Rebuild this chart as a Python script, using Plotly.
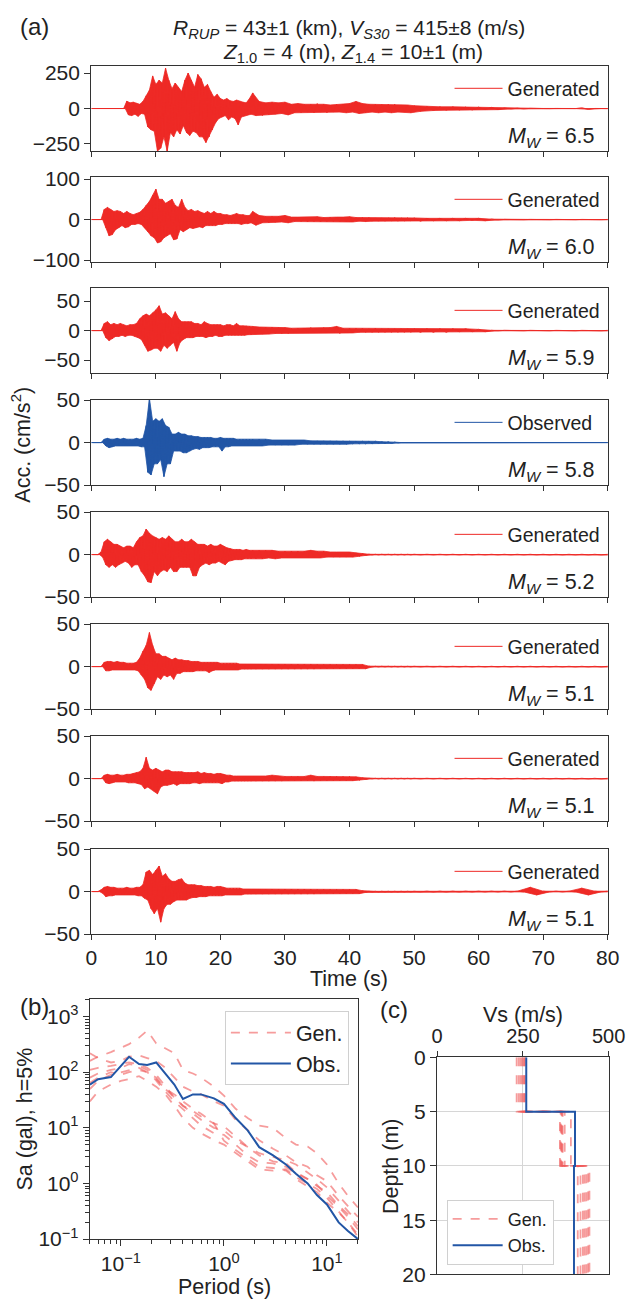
import numpy as np
import plotly.graph_objects as go

W, H = 643, 1312
def fx(px): return px / W
def fy(py): return 1 - py / H

FONT = "Liberation Sans, Arial, sans-serif"
TXT = "#222222"
AX = "#333333"
RED = "#EE2A26"
BLUE = "#2256A6"
GEN_DASH = "rgba(240,90,90,0.6)"

# ---------------- (a) waveforms: upper/lower acceleration peaks per time bin ----------------
T_GRID = np.concatenate([np.arange(0, 25.01, 0.5), np.arange(26, 50.01, 1.0), np.arange(52, 80.01, 2.0)])

MW_LABELS = ["6.5", "6.0", "5.9", "5.8", "5.2", "5.1", "5.1", "5.1"]
KINDS = ["Generated", "Generated", "Generated", "Observed", "Generated", "Generated", "Generated", "Generated"]
Y_LIMITS = [300, 105, 72, 50, 50, 50, 50, 50]
Y_TICKS = [[-250, 0, 250], [-100, 0, 100], [-50, 0, 50], [-50, 0, 50],
           [-50, 0, 50], [-50, 0, 50], [-50, 0, 50], [-50, 0, 50]]

UP1 = ([0]*11 +
       [52, 40, 45, 35, 30, 50, 90, 130, 230, 170, 200, 180, 285, 200, 140, 180, 150, 120, 200, 250,
        200, 150, 240, 210, 150, 170, 120, 80, 100, 70, 60, 70, 55, 50, 60, 50, 45, 40, 70, 110] +
       [50, 40, 45, 40, 45, 30, 35, 30, 30, 35, 30, 25, 30, 30, 35, 50, 35, 30, 30, 28, 30, 30, 25, 25, 20] +
       [14, 12, 12, 10, 10, 8, 3, 2, 1, 0.5, 0.5, 0.5, 5, 0.5, 0.5])
LO1 = ([0]*11 +
       [-45, -50, -40, -55, -35, -40, -130, -150, -160, -300, -280, -200, -300, -170, -200, -150, -180, -120, -170, -190,
        -160, -170, -200, -200, -240, -200, -150, -100, -70, -60, -50, -80, -60, -70, -115, -60, -50, -45, -40, -50] +
       [-50, -45, -40, -35, -45, -30, -30, -25, -30, -25, -30, -25, -25, -30, -25, -35, -30, -25, -30, -25, -30, -25, -25, -30, -20] +
       [-14, -12, -10, -10, -8, -8, -3, -2, -1, -0.5, -0.5, -0.5, -5, -0.5, -0.5])

UP2 = ([0]*4 +
       [25, 30, 25, 20, 22, 20, 15, 20, 15, 12, 15, 18, 25, 35, 45, 60, 75, 50, 50, 40,
        45, 50, 35, 30, 50, 30, 22, 25, 20, 22, 18, 15, 20, 15, 20, 15, 15, 12, 12, 10,
        12, 15, 12, 12, 10, 10, 20] +
       [10, 8, 8, 8, 10, 6, 6, 6, 6, 7, 5, 6, 6, 6, 7, 5, 5, 5, 4, 4, 4, 5, 4, 4, 4] +
       [3, 3, 3, 3, 3, 1, 0.3, 0.3, 0.3, 0.3, 0.3, 0.3, 0.3, 0.3, 0.3])
LO2 = ([0]*4 +
       [-20, -40, -37, -25, -20, -15, -20, -18, -12, -12, -10, -12, -20, -30, -40, -45, -58, -55, -45, -40,
        -35, -50, -48, -25, -30, -25, -20, -22, -20, -18, -20, -15, -15, -15, -15, -12, -12, -10, -10, -10,
        -10, -10, -12, -10, -10, -8, -14] +
       [-8, -8, -7, -6, -8, -5, -5, -6, -5, -6, -5, -5, -5, -6, -6, -4, -5, -4, -4, -4, -3, -4, -3, -3, -4] +
       [-3, -3, -3, -2, -3, -1, -0.3, -0.3, -0.3, -0.3, -0.3, -0.3, -0.3, -0.3, -0.3])

UP3 = ([0]*4 +
       [12, 15, 10, 12, 10, 12, 10, 8, 10, 10, 12, 20, 25, 28, 25, 30, 35, 42, 28, 30,
        25, 20, 32, 20, 15, 15, 15, 15, 12, 12, 10, 15, 12, 10, 10, 10, 10, 8, 10, 10,
        8, 12, 8, 8, 8, 7, 7] +
       [6, 6, 6, 5, 5, 4, 4, 4, 5, 4, 5, 5, 7, 4, 4, 4, 4, 3, 4, 3, 3, 3, 3, 3, 3] +
       [3, 3, 3, 3, 2, 0.4, 0.3, 0.3, 0.3, 0.3, 0.3, 0.3, 0.3, 0.3, 0.3])
LO3 = ([0]*4 +
       [-12, -17, -14, -10, -10, -8, -10, -8, -8, -10, -12, -15, -25, -35, -33, -30, -30, -35, -25, -30,
        -25, -20, -35, -20, -15, -12, -12, -12, -10, -10, -10, -12, -10, -10, -8, -10, -10, -8, -8, -8,
        -8, -8, -8, -8, -7, -7, -6] +
       [-6, -6, -5, -5, -5, -4, -4, -4, -4, -4, -4, -4, -5, -4, -4, -3, -3, -3, -3, -3, -3, -3, -3, -3, -3] +
       [-3, -3, -2, -2, -2, -0.4, -0.3, -0.3, -0.3, -0.3, -0.3, -0.3, -0.3, -0.3, -0.3])

UP4 = ([0]*4 +
       [4, 5, 4, 4, 5, 4, 5, 4, 4, 4, 5, 4, 5, 20, 52, 25, 28, 25, 28, 20,
        18, 10, 10, 12, 10, 10, 8, 8, 7, 7, 6, 6, 6, 6, 5, 5, 6, 5, 5, 5,
        5, 4, 4, 4, 4, 4, 4] +
       [4, 4, 3, 3, 3, 3, 3, 3, 2, 2, 2, 2, 2, 2, 1.5, 1.5, 1.5, 1.5, 1.5, 1, 1, 0.5, 0, 0, 0] +
       [0]*15)
LO4 = ([0]*4 +
       [-4, -6, -5, -4, -4, -4, -4, -4, -4, -4, -4, -5, -5, -35, -38, -25, -25, -20, -40, -25,
        -25, -10, -10, -10, -12, -12, -10, -8, -7, -8, -6, -6, -6, -5, -5, -5, -10, -5, -5, -4,
        -4, -4, -4, -4, -4, -4, -4] +
       [-4, -3, -3, -3, -3, -3, -2, -2, -2, -2, -2, -2, -2, -2, -1.5, -1.5, -1.5, -1.5, -1, -1, -1, -0.5, 0, 0, 0] +
       [0]*15)

UP5 = ([0]*3 +
       [3, 15, 18, 15, 12, 12, 10, 8, 10, 10, 8, 15, 20, 22, 30, 25, 22, 20, 18, 20,
        18, 22, 18, 15, 15, 18, 15, 15, 18, 15, 12, 12, 12, 10, 12, 10, 10, 12, 10, 8,
        7, 6, 6, 6, 5, 6, 5, 5] +
       [5, 5, 5, 4, 4, 4, 4, 4, 5, 4, 4, 3, 3, 3, 3, 2, 1, 0.4, 0.3, 0.3, 0.3, 0.3, 0.3, 0.3, 0.3] +
       [0.3]*15)
LO5 = ([0]*3 +
       [-3, -12, -15, -12, -15, -12, -10, -8, -10, -15, -12, -12, -20, -25, -32, -33, -20, -25, -20, -18,
        -20, -15, -20, -20, -15, -15, -15, -15, -25, -25, -15, -12, -10, -12, -10, -10, -8, -10, -12, -8,
        -7, -6, -6, -6, -5, -5, -5, -5] +
       [-5, -4, -5, -4, -4, -4, -4, -4, -4, -4, -3, -3, -3, -3, -3, -2, -1, -0.4, -0.3, -0.3, -0.3, -0.3, -0.3, -0.3, -0.3] +
       [-0.3]*15)

UP6 = ([0]*4 +
       [5, 6, 6, 5, 6, 5, 5, 4, 4, 4, 5, 10, 18, 25, 40, 25, 15, 15, 12, 12,
        10, 8, 10, 8, 8, 7, 7, 6, 6, 6, 5, 5, 5, 5, 5, 5, 4, 4, 4, 4,
        4, 4, 3, 3, 3, 3, 3] +
       [3, 3, 3, 3, 3, 3, 3, 3, 3, 2.5, 2.5, 2.5, 2.5, 2.5, 2.5, 2.5, 2.5, 0.5, 0.3, 0.3, 0.3, 0.3, 0.3, 0.3, 0.3] +
       [0.3]*15)
LO6 = ([0]*4 +
       [-5, -5, -4, -4, -4, -4, -4, -4, -4, -4, -5, -10, -15, -25, -28, -20, -12, -15, -10, -12,
        -10, -15, -8, -8, -6, -6, -6, -6, -5, -5, -5, -5, -7, -5, -4, -4, -4, -4, -4, -4,
        -4, -4, -3, -3, -3, -3, -3] +
       [-3, -3, -3, -3, -3, -3, -3, -3, -3, -2.5, -2.5, -2.5, -2.5, -2.5, -2.5, -2.5, -2.5, -0.5, -0.3, -0.3, -0.3, -0.3, -0.3, -0.3, -0.3] +
       [-0.3]*15)

UP7 = ([0]*4 +
       [4, 5, 4, 4, 5, 4, 4, 5, 5, 6, 7, 8, 12, 25, 12, 10, 12, 10, 8, 10,
        10, 8, 8, 8, 8, 7, 7, 7, 7, 8, 6, 7, 6, 6, 5, 6, 6, 5, 4, 4,
        3, 3, 3, 3, 3, 3, 3] +
       [3, 3, 4, 3, 2.5, 2.5, 2.5, 2.5, 4, 2.5, 2.5, 2.5, 2.5, 2.5, 2.5, 2, 1, 0.3, 0.3, 0.3, 0.3, 0.3, 0.3, 0.3, 0.3] +
       [0.3]*15)
LO7 = ([0]*4 +
       [-5, -6, -5, -4, -4, -4, -4, -5, -5, -5, -6, -7, -12, -10, -12, -15, -18, -10, -8, -8,
        -7, -6, -8, -6, -6, -6, -6, -5, -5, -6, -5, -5, -5, -5, -5, -5, -6, -4, -4, -3,
        -3, -3, -3, -3, -3, -3, -3] +
       [-3, -3, -3, -3, -2.5, -2.5, -2.5, -2.5, -3, -2.5, -2.5, -2.5, -2.5, -2.5, -2.5, -2, -1, -0.3, -0.3, -0.3, -0.3, -0.3, -0.3, -0.3, -0.3] +
       [-0.3]*15)

UP8 = ([0]*3 +
       [2, 5, 6, 5, 5, 4, 4, 4, 5, 4, 4, 5, 5, 8, 23, 25, 20, 25, 30, 18,
        21, 15, 12, 12, 14, 15, 10, 8, 8, 8, 7, 7, 6, 6, 6, 5, 6, 6, 5, 4,
        4, 4, 4, 4, 3, 3, 3, 3] +
       [3, 3, 3, 3, 3, 3, 3, 3, 3, 2.5, 2.5, 2.5, 2.5, 2.5, 2.5, 2.5, 1, 0.3, 0.3, 0.3, 0.3, 0.3, 0.3, 0.3, 0.3] +
       [0.4, 0.4, 0.4, 0.4, 0.4, 0.4, 0.4, 0.4, 5, 0.4, 0.4, 0.4, 4, 0.4, 0.4])
LO8 = ([0]*3 +
       [-2, -6, -5, -5, -4, -4, -4, -4, -4, -4, -4, -5, -5, -8, -10, -20, -26, -20, -36, -20,
        -15, -15, -12, -10, -10, -10, -10, -8, -7, -7, -6, -6, -6, -5, -5, -5, -5, -5, -4, -4,
        -4, -4, -4, -4, -3, -3, -3, -3] +
       [-3, -3, -3, -3, -3, -3, -3, -3, -3, -2.5, -2.5, -2.5, -2.5, -2.5, -2.5, -2.5, -1, -0.3, -0.3, -0.3, -0.3, -0.3, -0.3, -0.3, -0.3] +
       [-0.4, -0.4, -0.4, -0.4, -0.4, -0.4, -0.4, -0.4, -4, -0.4, -0.4, -0.4, -4, -0.4, -0.4])

UPS = [UP1, UP2, UP3, UP4, UP5, UP6, UP7, UP8]
LOS = [LO1, LO2, LO3, LO4, LO5, LO6, LO7, LO8]

# ---------------- (b) response spectra ----------------
PERIOD = [0.05, 0.06, 0.08, 0.1, 0.12, 0.15, 0.18, 0.22, 0.27, 0.33, 0.4, 0.5, 0.6, 0.8,
          1.0, 1.3, 1.7, 2.2, 3, 4, 5, 6.5, 8, 10, 13, 16, 20]
SA_OBS = [60, 75, 82, 130, 190, 140, 135, 150, 95, 60, 33, 40, 40, 34,
          27, 15, 9, 4.5, 3.2, 2.2, 1.5, 1.0, 0.62, 0.42, 0.2, 0.14, 0.1]
SA_GEN = [
    [160, 190, 230, 280, 320, 420, 560, 330, 270, 220, 110, 95, 80, 55, 38, 22, 15, 11, 10, 6.5, 5, 4.6, 3.5, 2.2, 1.0, 0.6, 0.37],
    [220, 180, 150, 160, 190, 200, 180, 160, 120, 80, 55, 45, 40, 30, 25, 14, 9, 6, 4.2, 3.2, 2.4, 2.0, 1.4, 1.1, 0.6, 0.4, 0.25],
    [110, 120, 130, 140, 150, 140, 120, 90, 55, 35, 25, 18, 14, 10, 9, 6, 4.5, 3.5, 3.0, 2.6, 2.2, 1.6, 1.2, 0.85, 0.5, 0.32, 0.2],
    [80, 95, 110, 120, 140, 130, 110, 70, 45, 30, 22, 15, 11, 8, 7.5, 5, 3.2, 2.4, 2.3, 2.0, 1.5, 1.2, 0.9, 0.7, 0.4, 0.28, 0.17],
    [30, 45, 60, 70, 75, 85, 70, 55, 40, 25, 15, 10, 8, 6, 5, 3.5, 2.5, 1.8, 1.7, 1.8, 1.3, 1.0, 0.8, 0.55, 0.32, 0.2, 0.12],
    [50, 70, 90, 100, 110, 120, 100, 80, 50, 35, 25, 20, 16, 12, 10.7, 7, 4.5, 3.2, 2.5, 2.3, 1.6, 1.2, 0.95, 0.6, 0.38, 0.25, 0.15],
    [65, 80, 100, 90, 100, 110, 100, 75, 50, 40, 30, 22, 18, 12, 5.9, 4, 2.8, 2.0, 1.9, 1.7, 1.2, 0.9, 0.7, 0.45, 0.3, 0.2, 0.11],
]

# ---------------- (c) Vs profiles ----------------
LAYER_DEPTH = [0, 5, 10, 20]
OBS_VS = [260, 402, 399]
GEN_VS_L1 = [232, 238, 243, 247, 251, 254, 256]
GEN_VS_L2 = [358, 360, 362, 364, 366, 372, 390]
GEN_VS_L3 = [410, 418, 425, 430, 435, 440, 444]

# ---------------- layout geometry (page pixels) ----------------
A_X0, A_X1 = 88.5, 624
A_TOPS = [55, 168, 281, 395, 509, 623, 737, 852]
A_H = 86.5
B_BOX = (87, 365, 1005, 1249)
C_BOX = (447, 625, 1064, 1285)

fig = go.Figure()
layout = {}

def tfont(size=21):
    return dict(family=FONT, size=size, color=TXT)

step = np.diff(T_GRID, append=T_GRID[-1] + 2.0)
for i in range(8):
    k = i + 1
    xa = "x" if k == 1 else f"x{k}"
    ya = "y" if k == 1 else f"y{k}"
    lg = "legend" if k == 1 else f"legend{k}"
    up = np.array(UPS[i], dtype=float)
    lo = np.array(LOS[i], dtype=float)
    color = BLUE if KINDS[i] == "Observed" else RED
    poly_x = np.concatenate([T_GRID, (T_GRID + step / 2)[::-1]])
    poly_y = np.concatenate([up, lo[::-1]])
    fig.add_trace(go.Scatter(x=poly_x, y=poly_y, mode="lines", fill="toself", fillcolor=color,
                             line=dict(color=color, width=0.8), showlegend=False,
                             xaxis=xa, yaxis=ya, hoverinfo="skip"))
    xs = np.empty(2 * len(T_GRID)); ys = np.empty(2 * len(T_GRID))
    xs[0::2] = T_GRID; xs[1::2] = T_GRID + step / 2
    ys[0::2] = up; ys[1::2] = lo
    fig.add_trace(go.Scatter(x=xs, y=ys, mode="lines", line=dict(color=color, width=1),
                             name=KINDS[i], xaxis=xa, yaxis=ya, legend=lg, showlegend=True,
                             hoverinfo="skip"))
    top = A_TOPS[i]
    bot = top + A_H
    layout[f"xaxis{'' if k == 1 else k}"] = dict(
        domain=[fx(A_X0), fx(A_X1)], anchor=ya, range=[0, 80], tickvals=list(range(0, 81, 10)),
        ticks="outside", ticklen=5, tickwidth=1.3, tickcolor=AX, showline=True, mirror=True,
        linecolor=AX, linewidth=1.3, showgrid=False, zeroline=False, showticklabels=(k == 8),
        ticklabeloverflow="allow", tickfont=tfont(21))
    L = Y_LIMITS[i]
    layout[f"yaxis{'' if k == 1 else k}"] = dict(
        domain=[fy(bot), fy(top)], anchor=xa, range=[-L, L], tickvals=Y_TICKS[i],
        ticks="outside", ticklen=6, tickwidth=1.3, tickcolor=AX, showline=True, mirror=True,
        linecolor=AX, linewidth=1.3, showgrid=False, zeroline=False, tickfont=tfont(21))
    layout[lg] = dict(x=fx(460), y=fy(top + 23), xanchor="left", yanchor="middle",
                      bgcolor="rgba(0,0,0,0)", font=tfont(19.5), itemwidth=48, borderwidth=0)

# panel (b)
for j, g in enumerate(SA_GEN):
    fig.add_trace(go.Scatter(x=PERIOD, y=g, mode="lines", line=dict(color=GEN_DASH, width=1.8, dash="dash"),
                             name="Gen.", showlegend=(j == 0), legend="legend9", xaxis="x9", yaxis="y9",
                             hoverinfo="skip"))
fig.add_trace(go.Scatter(x=PERIOD, y=SA_OBS, mode="lines", line=dict(color=BLUE, width=2),
                         name="Obs.", legend="legend9", xaxis="x9", yaxis="y9", hoverinfo="skip"))

minor_x = [m * 10.0 ** e for e in (-2, -1, 0, 1) for m in range(2, 10)]
minor_y = [m * 10.0 ** e for e in (-1, 0, 1, 2, 3) for m in range(2, 10)]
sup = lambda e: "10<sup>" + (str(e).replace("-", "\u2212")) + "</sup>"
bx0, bx1, by0, by1 = B_BOX
layout["xaxis9"] = dict(domain=[fx(bx0), fx(bx1)], anchor="y9", type="log",
                        range=[np.log10(0.05), np.log10(20)],
                        tickvals=[0.1, 1, 10], ticktext=[sup(-1), sup(0), sup(1)],
                        ticks="outside", ticklen=6, tickwidth=1.3, tickcolor=AX,
                        minor=dict(tickvals=minor_x, ticks="outside", ticklen=3.5, tickcolor=AX, showgrid=False),
                        showline=True, mirror=True, linecolor=AX, linewidth=1.3, showgrid=False,
                        zeroline=False, tickfont=tfont(21))
layout["yaxis9"] = dict(domain=[fy(by1), fy(by0)], anchor="x9", type="log", range=[-1, 3.31],
                        tickvals=[0.1, 1, 10, 100, 1000], ticktext=[sup(-1), sup(0), sup(1), sup(2), sup(3)],
                        ticks="outside", ticklen=6, tickwidth=1.3, tickcolor=AX,
                        minor=dict(tickvals=minor_y, ticks="outside", ticklen=3.5, tickcolor=AX, showgrid=False),
                        showline=True, mirror=True, linecolor=AX, linewidth=1.3, showgrid=False,
                        zeroline=False, tickfont=tfont(21))
layout["legend9"] = dict(x=fx(227), y=fy(1017), xanchor="left", yanchor="top", bgcolor="white",
                         bordercolor="#d0d0d0", borderwidth=1, font=tfont(21.5), itemwidth=60)

# panel (c)
for j in range(len(GEN_VS_L1)):
    v = [GEN_VS_L1[j], GEN_VS_L2[j], GEN_VS_L3[j]]
    fig.add_trace(go.Scatter(x=v + [v[-1]], y=LAYER_DEPTH, mode="lines", line_shape="vh",
                             line=dict(color=GEN_DASH, width=1.8, dash="dash"),
                             name="Gen.", showlegend=(j == 0), legend="legend10",
                             xaxis="x10", yaxis="y10", hoverinfo="skip"))
fig.add_trace(go.Scatter(x=OBS_VS + [OBS_VS[-1]], y=LAYER_DEPTH, mode="lines", line_shape="vh",
                         line=dict(color=BLUE, width=2), name="Obs.", legend="legend10",
                         xaxis="x10", yaxis="y10", hoverinfo="skip"))
cx0, cx1, cy0, cy1 = C_BOX
layout["xaxis10"] = dict(domain=[fx(cx0), fx(cx1)], anchor="y10", side="top", range=[0, 500],
                         tickvals=[0, 250, 500], ticks="outside", ticklen=5, tickwidth=1.3, tickcolor=AX,
                         showline=True, mirror=True, linecolor=AX, linewidth=1.3,
                         showgrid=True, gridcolor="#d6d6d6", gridwidth=1.2, zeroline=False,
                         ticklabeloverflow="allow", tickfont=tfont(20))
layout["yaxis10"] = dict(domain=[fy(cy1), fy(cy0)], anchor="x10", range=[20, 0],
                         tickvals=[0, 5, 10, 15, 20], ticks="outside", ticklen=6, tickwidth=1.3, tickcolor=AX,
                         showline=True, mirror=True, linecolor=AX, linewidth=1.3,
                         showgrid=True, gridcolor="#d6d6d6", gridwidth=1.2, zeroline=False,
                         tickfont=tfont(21))
layout["legend10"] = dict(x=fx(457), y=fy(1275), xanchor="left", yanchor="bottom", bgcolor="white",
                          bordercolor="#d0d0d0", borderwidth=1, font=tfont(18), itemwidth=50)

annotations = [
    dict(text="(a)", x=fx(12), y=fy(15), xanchor="left", yanchor="middle", font=tfont(24)),
    dict(text="(b)", x=fx(12), y=fy(1012), xanchor="left", yanchor="middle", font=tfont(24)),
    dict(text="(c)", x=fx(386), y=fy(1015), xanchor="left", yanchor="middle", font=tfont(24)),
    dict(text="<i>R<sub>RUP</sub></i> = 43\u00b11 (km), <i>V<sub>S30</sub></i> = 415\u00b18 (m/s)",
         x=fx(356), y=fy(17), xanchor="center", yanchor="middle", font=tfont(21)),
    dict(text="<i>Z</i><sub>1.0</sub> = 4 (m), <i>Z</i><sub>1.4</sub> = 10\u00b11 (m)",
         x=fx(360), y=fy(42), xanchor="center", yanchor="middle", font=tfont(21)),
    dict(text="Acc. (cm/s<sup>2</sup>)", x=fx(16), y=fy(440), xanchor="center", yanchor="middle",
         textangle=-90, font=tfont(21.5)),
    dict(text="Time (s)", x=fx(356), y=fy(984), xanchor="center", yanchor="middle", font=tfont(21.5)),
    dict(text="Period (s)", x=fx(227), y=fy(1298), xanchor="center", yanchor="middle", font=tfont(21.5)),
    dict(text="Sa (gal), h=5%", x=fx(20), y=fy(1127), xanchor="center", yanchor="middle",
         textangle=-90, font=tfont(21.5)),
    dict(text="Vs (m/s)", x=fx(536), y=fy(1021), xanchor="center", yanchor="middle", font=tfont(21.5)),
    dict(text="Depth (m)", x=fx(400), y=fy(1175), xanchor="center", yanchor="middle",
         textangle=-90, font=tfont(21.5)),
]
for i in range(8):
    annotations.append(dict(text="<i>M<sub>W</sub></i> = " + MW_LABELS[i], x=fx(613),
                            y=fy(A_TOPS[i] + A_H - 14), xanchor="right", yanchor="middle", font=tfont(21.5)))
for a in annotations:
    a.update(xref="paper", yref="paper", showarrow=False)

fig.update_layout(width=W, height=H, margin=dict(l=0, r=0, t=0, b=0),
                  paper_bgcolor="white", plot_bgcolor="white",
                  font=dict(family=FONT, color=TXT), annotations=annotations, **layout)

fig.write_html("out.html", config={"displayModeBar": False},
               post_script="document.body.style.margin='0';document.documentElement.style.overflow='hidden';")
